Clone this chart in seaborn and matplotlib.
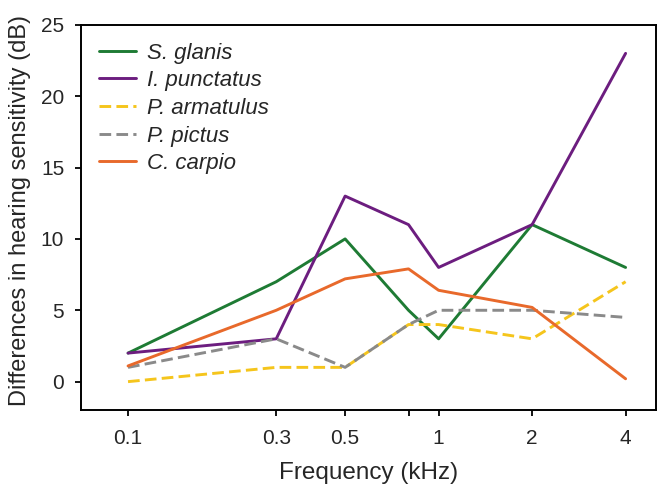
import pandas as pd
import numpy as np
import seaborn as sns
import matplotlib.pyplot as plt
from matplotlib.ticker import FixedLocator, FixedFormatter, NullLocator

# frequencies (kHz)
freqs = [0.1, 0.3, 0.5, 0.8, 1, 2, 4]

species = ['S. glanis', 'I. punctatus', 'P. armatulus', 'P. pictus', 'C. carpio']
s_glanis = [2, 7, 10, 5, 3, 11, 8]
i_punctatus = [2, 3, 13, 11, 8, 11, 23]
p_armatulus = [0, 1, 1, 4, 4, 3, 7]
p_pictus = [1, 3, 1, 4, 5, 5, 4.5]
c_carpio = [1.1, 5, 7.2, 7.9, 6.4, 5.2, 0.2]

tick_vals = [0.1, 0.3, 0.5, 0.8, 1, 2, 4]
tick_labels = ['0.1', '0.3', '0.5', '', '1', '2', '4']

colors = {'S. glanis': '#1e7b34', 'I. punctatus': '#6c1d7f',
          'P. armatulus': '#f5c51c', 'P. pictus': '#8a8a8a',
          'C. carpio': '#e8692b'}
dashes = {'S. glanis': '', 'I. punctatus': '',
          'P. armatulus': (4, 1.8), 'P. pictus': (4, 1.8),
          'C. carpio': ''}

values = [s_glanis, i_punctatus, p_armatulus, p_pictus, c_carpio]
rows = []
for sp, vals in zip(species, values):
    for f, v in zip(freqs, vals):
        rows.append([sp, f, v])
df = pd.DataFrame(rows, columns=['Species', 'Frequency', 'Diff'])

sns.set_style('ticks')
plt.rcParams['font.family'] = ['Liberation Sans', 'DejaVu Sans']

fig = plt.figure(figsize=(6.63, 4.96), dpi=100)
ax = fig.add_axes([0.122, 0.173, 0.867, 0.777])

sns.lineplot(data=df, x='Frequency', y='Diff', hue='Species', style='Species',
             hue_order=species, style_order=species, palette=colors,
             dashes=dashes, linewidth=2.1, ax=ax)

ax.set_xscale('log')
ax.set_xlim(0.0705, 5.0)
ax.set_ylim(-2, 25)
ax.xaxis.set_major_locator(FixedLocator(tick_vals))
ax.xaxis.set_major_formatter(FixedFormatter(tick_labels))
ax.xaxis.set_minor_locator(NullLocator())
ax.set_yticks([0, 5, 10, 15, 20, 25])

ax.tick_params(axis='both', labelsize=15, length=4.5, width=1.3, direction='out', color='black')
ax.tick_params(axis='x', pad=9)
ax.tick_params(axis='y', pad=7.5)
ax.set_xlabel('Frequency (kHz)', fontsize=17.5, labelpad=10)
ax.set_ylabel('Differences in hearing sensitivity (dB)', fontsize=17)
ax.yaxis.set_label_coords(-0.086, 0.519)
for sp in ax.spines.values():
    sp.set_visible(True)
    sp.set_linewidth(1.4)
    sp.set_color('black')

leg = ax.legend(loc='upper left', frameon=False, fontsize=16, handlelength=1.67,
                handletextpad=0.5, labelspacing=0.3, borderaxespad=0.4)
for t in leg.get_texts():
    t.set_fontstyle('italic')

fig.savefig('out.png', dpi=100)
